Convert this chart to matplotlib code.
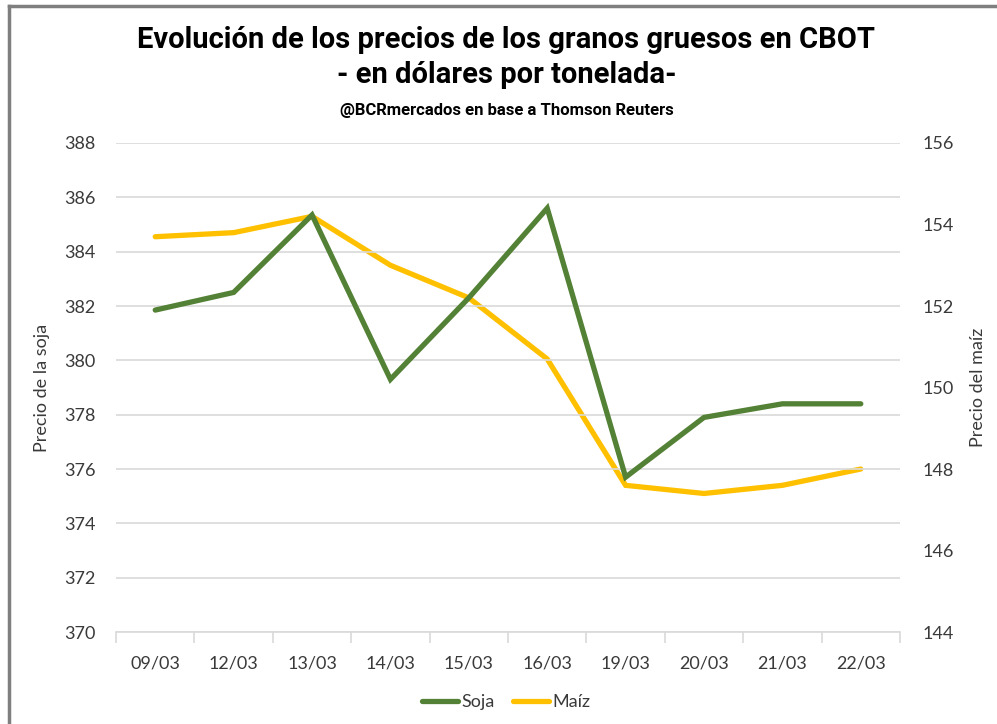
import numpy as np
import matplotlib.pyplot as plt
from matplotlib.lines import Line2D

fechas = ["09/03", "12/03", "13/03", "14/03", "15/03", "16/03", "19/03", "20/03", "21/03", "22/03"]
soja = [381.85, 382.5, 385.35, 379.3, 382.3, 385.6, 375.7, 377.9, 378.4, 378.4]
maiz = [153.7, 153.8, 154.2, 153.0, 152.2, 150.7, 147.6, 147.4, 147.6, 148.0]

verde = "#538135"
amarillo = "#FFC000"
gris_txt = "#3a3a3a"
plt.rcParams['font.family'] = ['Lato', 'DejaVu Sans']

fig = plt.figure(figsize=(9.97, 7.24), dpi=100)
ax = fig.add_axes([0.1164, 0.127, 0.7863, 0.6755])
ax2 = ax.twinx()

x = np.arange(len(fechas))
l1, = ax.plot(x, soja, color=verde, lw=3.8, solid_capstyle="round", solid_joinstyle="miter", zorder=3)
l2, = ax2.plot(x, maiz, color=amarillo, lw=3.8, solid_capstyle="round", solid_joinstyle="miter", zorder=2)
ax.set_zorder(ax2.get_zorder() + 1)
ax.patch.set_visible(False)

ax.set_xlim(-0.5, len(fechas) - 0.5)
ax.set_ylim(370, 388)
ax.set_yticks(np.arange(370, 389, 2))
ax2.set_ylim(144, 156)
ax2.set_yticks(np.arange(144, 157, 2))

ax.grid(axis="y", color="#d9d9d9", lw=1.2)
ax.set_axisbelow(True)
for a in (ax, ax2):
    for s in a.spines.values():
        s.set_visible(False)
ax.spines["bottom"].set_visible(True)
ax.spines["bottom"].set_color("#d9d9d9")
ax.spines["bottom"].set_linewidth(1.2)

ax.set_xticks(x)
ax.set_xticklabels(fechas)
ax.set_xticks(np.arange(-0.5, len(fechas), 1), minor=True)
ax.tick_params(axis="x", which="major", length=0, pad=17, labelsize=13, labelcolor=gris_txt)
ax.tick_params(axis="x", which="minor", length=8, color="#d9d9d9", width=1.2)
ax.tick_params(axis="y", length=0, pad=15, labelsize=13, labelcolor=gris_txt)
ax2.tick_params(axis="y", length=0, pad=16, labelsize=13, labelcolor=gris_txt)

ax.set_ylabel("Precio de la soja", fontsize=13, color=gris_txt, labelpad=10)
ax2.set_ylabel("Precio del maíz", fontsize=13, color=gris_txt, rotation=90, labelpad=12)

titulo_fuente = ["Roboto", "DejaVu Sans"]
fig.text(0.508, 0.945, "Evolución de los precios de los granos gruesos en CBOT",
         ha="center", va="center", fontsize=21, fontweight="bold", family=titulo_fuente)
fig.text(0.508, 0.897, "- en dólares por tonelada-",
         ha="center", va="center", fontsize=21, fontweight="bold", family=titulo_fuente)
fig.text(0.508, 0.848, "@BCRmercados en base a Thomson Reuters",
         ha="center", va="center", fontsize=12, fontweight="bold", family=titulo_fuente)

fig.legend([l1, l2], ["Soja", "Maíz"], loc="center", bbox_to_anchor=(0.508, 0.03),
           ncol=2, frameon=False, fontsize=13, handlelength=2.0, handletextpad=0.2,
           columnspacing=1.0, labelcolor=gris_txt)

fig.add_artist(Line2D([0.009, 1.0], [0.992, 0.992], color="#7f7f7f", lw=2.5, transform=fig.transFigure))
fig.add_artist(Line2D([0.009, 0.009], [0.0, 0.992], color="#7f7f7f", lw=2.5, transform=fig.transFigure))

fig.savefig("out.png", dpi=100)
